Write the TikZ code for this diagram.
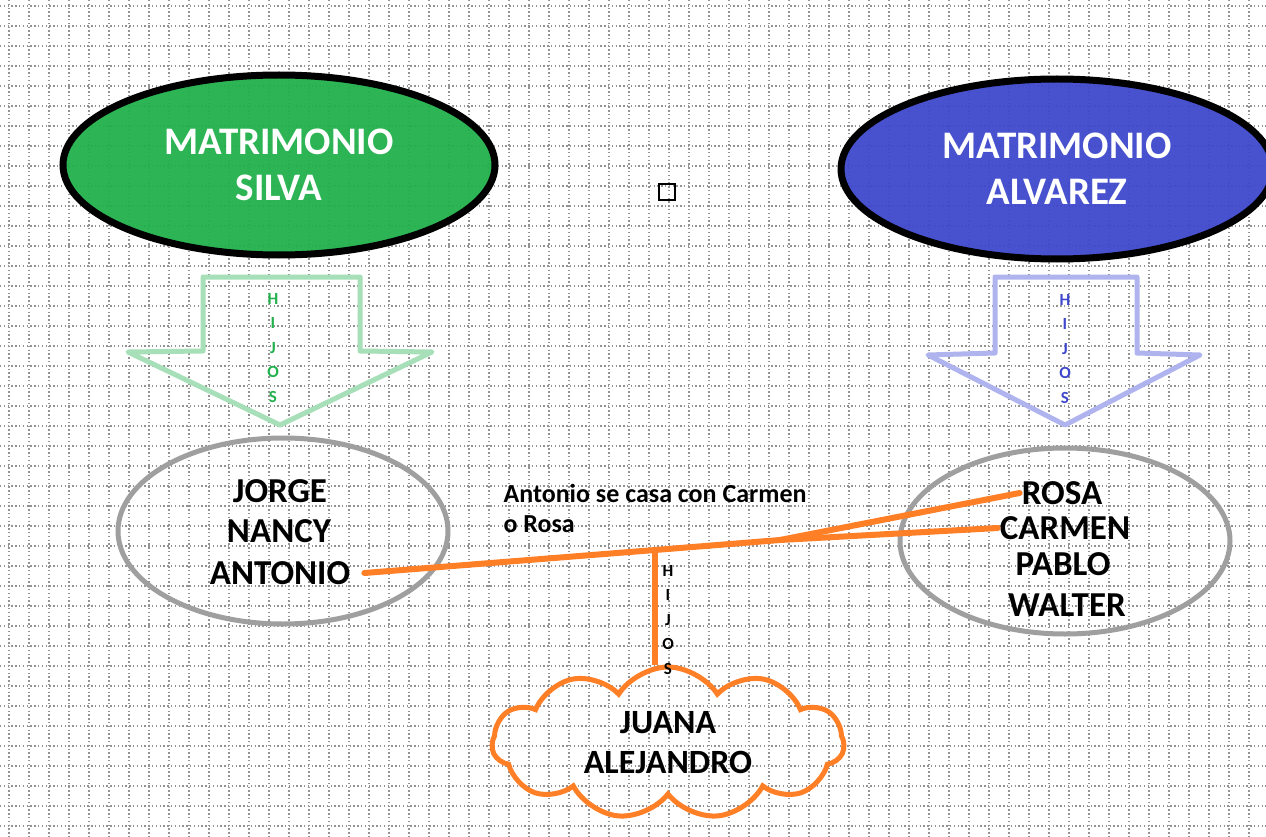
\documentclass[tikz,border=0pt]{standalone}
\usepackage{fontspec}
\setmainfont{Carlito}
\usetikzlibrary{shapes.geometric,shapes.symbols}
\definecolor{verdeM}{HTML}{22B14C}
\definecolor{azulM}{HTML}{3F48CC}
\definecolor{naranja}{HTML}{FF7F27}
\definecolor{verdeClaro}{HTML}{A6DFB8}
\definecolor{azulClaro}{HTML}{B0B4EE}
\tikzset{
  rejilla/.style={draw=gray!85,line width=1.4pt,dash pattern=on 1.4pt off 2.4pt},
  matrimonio/.style={ellipse,draw=black,line width=7pt,minimum width=432pt,minimum height=180pt,
    text=white,font=\bfseries\fontsize{39}{46}\selectfont,align=center,fill opacity=0.95,text opacity=1},
  familia/.style={ellipse,draw=gray!75,line width=5pt,minimum width=330pt,minimum height=186pt},
  nombre/.style={font=\bfseries\fontsize{35}{40}\selectfont,inner sep=2pt},
  flecha/.style={line width=5pt,line join=round},
  letras/.style={font=\bfseries\fontsize{17}{24.5}\selectfont,align=center},
  boda/.style={draw=naranja,line width=6pt,line cap=round},
  nube/.style={cloud,cloud puffs=11,cloud puff arc=115,aspect=2.3,draw=naranja,line width=5pt,
    minimum width=352pt,minimum height=152pt,align=center,font=\bfseries\fontsize{34}{40}\selectfont}
}
\begin{document}
\begin{tikzpicture}[x=1pt,y=-1pt]
  \clip (0,0) rectangle (1266,837);
  \fill[white] (0,0) rectangle (1266,837);
  % rejilla de fondo
  \foreach \x in {9,29,...,1269} \draw[rejilla] (\x,0) -- (\x,837);
  \foreach \y in {6,26,...,846} \draw[rejilla] (0,\y) -- (1266,\y);

  \node[matrimonio,fill=verdeM] (silva) at (279,165) {MATRIMONIO\\SILVA};
  \node[matrimonio,fill=azulM] (alvarez) at (1057,169) {MATRIMONIO\\ALVAREZ};
  \node[draw,line width=1.6pt,minimum size=16pt,inner sep=0pt] (cuadro) at (667,192) {};

  \draw[flecha,draw=verdeClaro] (203,277) -- (360,277) -- (360,351) -- (432,352) -- (280,425)
    -- (128,352) -- (203,351) -- cycle;
  \node[letras,text=verdeM] (hijosA) at (273,348) {H\\I\\J\\O\\S};
  \draw[flecha,draw=azulClaro] (995,277) -- (1137,277) -- (1137,353) -- (1200,355) -- (1065,425)
    -- (928,355) -- (995,353) -- cycle;
  \node[letras,text=azulM] (hijosB) at (1065,349) {H\\I\\J\\O\\S};

  \node[familia] (silvas) at (283,531) {};
  \node[nombre] (jorge) at (280,491) {JORGE};
  \node[nombre] (nancy) at (279,531) {NANCY};
  \node[nombre] (antonio) at (280,573) {ANTONIO};

  \node[familia] (alvarezs) at (1065,541) {};
  \node[nombre] (rosa) at (1062,493) {ROSA};
  \node[nombre] (carmen) at (1065,528) {CARMEN};
  \node[nombre] (pablo) at (1063,564) {PABLO};
  \node[nombre] (walter) at (1067,605) {WALTER};

  \node[anchor=west,align=left,font=\bfseries\fontsize{26}{30}\selectfont] (nota) at (500,508)
    {Antonio se casa con Carmen\\o Rosa};

  \node[nube] (nietos) at (668,743) {JUANA\\ALEJANDRO};

  \coordinate (union) at (780,540);
  \coordinate (rama) at (655,550);
  \draw[boda] ([xshift=12pt]antonio.east) -- (rama) -- (union);
  \draw[boda] (union) -- (rosa.west);
  \draw[boda] (union) -- (carmen.west);
  \draw[boda,line cap=butt] (rama) -- (rama |- nietos.north);
  \node[letras] (hijosC) at (668,620) {H\\I\\J\\O\\S};
\end{tikzpicture}
\end{document}
